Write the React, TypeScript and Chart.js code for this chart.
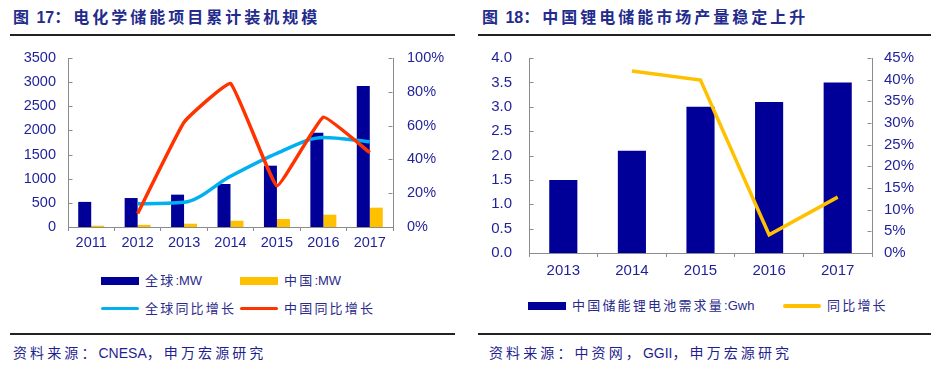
import React, { useEffect, useRef } from 'react';
import { Chart, registerables } from 'chart.js';

Chart.register(...registerables);

// ---------- data ----------
const years1 = ['2011', '2012', '2013', '2014', '2015', '2016', '2017'];
const globalMW = [520, 600, 670, 890, 1270, 1950, 2920];
const chinaMW = [27, 45, 68, 130, 166, 255, 400];
const globalYoY = [null, 13.8, 14.6, 30, 43.6, 53, 50.5];
const chinaYoY = [null, 8, 62, 85, 24.4, 65, 44];
const names1 = ['全球:MW', '中国:MW', '全球同比增长', '中国同比增长'];

const years2 = ['2013', '2014', '2015', '2016', '2017'];
const liDemand = [1.5, 2.1, 3.0, 3.1, 3.5];
const liYoY = [null, 42, 39.9, 4.2, 12.9];
const names2 = ['中国储能锂电池需求量:Gwh', '同比增长'];

const title1 = '图 17：电化学储能项目累计装机规模';
const title2 = '图 18：中国锂电储能市场产量稳定上升';
const source1 = '资料来源：CNESA，申万宏源研究';
const source2 = '资料来源：中资网，GGII，申万宏源研究';

// ---------- styles ----------
const NAVY = '#000099';
const YELLOW = '#FFC000';
const CYAN = '#00B0F0';
const RED = '#FF3300';
const TEXT = '#1f1f99';
const TITLE = '#232b8c';
const AXIS = '#8c8c8c';
const LATIN = "'Liberation Sans', Arial, sans-serif";
const MIXED = "'Liberation Sans', 'Noto Sans CJK SC', sans-serif";

const inwardTicks = {
  id: 'inwardTicks',
  afterDraw(chart: any) {
    const ctx = chart.ctx;
    ctx.save();
    ctx.strokeStyle = AXIS;
    ctx.lineWidth = 1;
    for (const id of ['y', 'y1']) {
      const s = chart.scales[id];
      if (!s) continue;
      const left = s.position === 'left';
      const x0 = left ? Math.round(chart.chartArea.left) + 0.5 : Math.round(chart.chartArea.right) - 0.5;
      const dir = left ? 1 : -1;
      s.ticks.forEach((t: any) => {
        const y = Math.round(s.getPixelForValue(t.value)) + 0.5;
        ctx.beginPath();
        ctx.moveTo(x0, y);
        ctx.lineTo(x0 + dir * 4, y);
        ctx.stroke();
      });
    }
    ctx.restore();
  },
};

function ChartBox({ config, style }: { config: any; style: React.CSSProperties }) {
  const ref = useRef<HTMLCanvasElement>(null);
  useEffect(() => {
    const chart = new Chart(ref.current as HTMLCanvasElement, config);
    return () => chart.destroy();
  }, []);
  return (
    <div style={{ position: 'absolute', ...style }}>
      <canvas ref={ref} />
    </div>
  );
}

function xAxis(size: number, pad: number, height: number) {
  return {
    type: 'category',
    offset: true,
    grid: { display: true, offset: true, drawOnChartArea: false, drawTicks: true, tickLength: 4, color: AXIS },
    border: { display: true, color: AXIS, width: 1 },
    ticks: { color: TEXT, font: { family: LATIN, size }, padding: pad, maxRotation: 0, autoSkip: false },
    afterFit: (s: any) => { s.height = height; s.paddingLeft = 0; s.paddingRight = 0; },
  };
}

function yAxis(position: string, min: number, max: number, step: number, pad: number, width: number, size: number, cb: (v: number) => string) {
  return {
    position,
    min,
    max,
    grid: { display: false, drawTicks: false },
    border: { display: true, color: AXIS, width: 1 },
    ticks: { stepSize: step, autoSkip: false, color: TEXT, font: { family: LATIN, size }, padding: pad, callback: cb },
    afterFit: (s: any) => { s.width = width; s.paddingTop = 0; s.paddingBottom = 0; },
  };
}

const config1 = {
  type: 'bar',
  data: {
    labels: years1,
    datasets: [
      { type: 'line', label: names1[3], data: chinaYoY, yAxisID: 'y1', borderColor: RED, backgroundColor: RED, borderWidth: 3.5, pointRadius: 0, tension: 0.1, order: 0 },
      { type: 'line', label: names1[2], data: globalYoY, yAxisID: 'y1', borderColor: CYAN, backgroundColor: CYAN, borderWidth: 3.5, pointRadius: 0, cubicInterpolationMode: 'monotone', order: 1 },
      { type: 'bar', label: names1[0], data: globalMW, yAxisID: 'y', backgroundColor: NAVY, categoryPercentage: 0.56, barPercentage: 1, order: 2 },
      { type: 'bar', label: names1[1], data: chinaMW, yAxisID: 'y', backgroundColor: YELLOW, categoryPercentage: 0.56, barPercentage: 1, order: 3 },
    ],
  },
  options: {
    animation: false,
    responsive: true,
    maintainAspectRatio: false,
    layout: { padding: { top: 18, left: 0, right: 0, bottom: 0 } },
    plugins: { legend: { display: false }, tooltip: { enabled: false } },
    scales: {
      x: xAxis(14.5, 3, 28),
      y: yAxis('left', 0, 3500, 500, 12, 68, 14.5, (v: number) => String(v)),
      y1: yAxis('right', 0, 100, 20, 14, 77, 14.5, (v: number) => v + '%'),
    },
  },
  plugins: [inwardTicks],
};

const config2 = {
  type: 'bar',
  data: {
    labels: years2,
    datasets: [
      { type: 'line', label: names2[1], data: liYoY, yAxisID: 'y1', borderColor: YELLOW, backgroundColor: YELLOW, borderWidth: 3.5, pointRadius: 0, tension: 0, order: 0 },
      { type: 'bar', label: names2[0], data: liDemand, yAxisID: 'y', backgroundColor: NAVY, categoryPercentage: 0.41, barPercentage: 1, order: 1 },
    ],
  },
  options: {
    animation: false,
    responsive: true,
    maintainAspectRatio: false,
    layout: { padding: { top: 18, left: 0, right: 0, bottom: 0 } },
    plugins: { legend: { display: false }, tooltip: { enabled: false } },
    scales: {
      x: xAxis(15, 5, 27),
      y: yAxis('left', 0, 4, 0.5, 17, 59, 15, (v: number) => v.toFixed(1)),
      y1: yAxis('right', 0, 45, 5, 12, 67, 15, (v: number) => v + '%'),
    },
  },
  plugins: [inwardTicks],
};

const abs = (l: number, t: number, extra: React.CSSProperties = {}): React.CSSProperties => ({ position: 'absolute', left: l, top: t, ...extra });

// letter-spacing only on CJK runs; Latin runs stay tight
function Spaced({ text, ls }: { text: string; ls: number }) {
  const parts = text.match(/[\x00-\x7F]+|[^\x00-\x7F]+/g) || [];
  return (
    <>
      {parts.map((p, i) => (
        <span key={i} style={{ letterSpacing: /^[\x00-\x7F]+$/.test(p) ? 0 : ls }}>{p}</span>
      ))}
    </>
  );
}

function LegendItem({ x, y, label, color, kind }: { x: number; y: number; label: string; color: string; kind: 'bar' | 'line' }) {
  const h = kind === 'bar' ? 8 : 3.5;
  return (
    <>
      <div style={abs(x, y - h / 2, { width: 38, height: h, background: color, borderRadius: kind === 'line' ? 2 : 0 })} />
      <div style={abs(x + 44, y - 10, { height: 20, lineHeight: '20px', fontSize: 13, color: '#2a2a8a', fontFamily: MIXED, whiteSpace: 'nowrap' })}>
        <Spaced text={label} ls={2.2} />
      </div>
    </>
  );
}

const titleStyle = (l: number): React.CSSProperties =>
  abs(l, 8, { height: 20, lineHeight: '20px', fontSize: 16, fontWeight: 'bold', color: TITLE, fontFamily: MIXED, whiteSpace: 'nowrap' });
const sourceStyle = (l: number): React.CSSProperties =>
  abs(l, 343, { height: 20, lineHeight: '20px', fontSize: 14, color: '#1f1f8f', fontFamily: MIXED, whiteSpace: 'nowrap' });

export default function App() {
  return (
    <div style={{ position: 'fixed', left: 0, top: 0, width: 939, height: 372, background: '#fff', overflow: 'hidden' }}>
      {/* left panel */}
      <div style={titleStyle(13)}><Spaced text={title1} ls={3} /></div>
      <div style={abs(10, 34, { width: 445, height: 2, background: '#222' })} />
      <ChartBox config={config1} style={{ left: 0, top: 40, width: 470, height: 215 }} />
      <LegendItem x={101} y={280.5} label={names1[0]} color={NAVY} kind="bar" />
      <LegendItem x={240} y={280.5} label={names1[1]} color={YELLOW} kind="bar" />
      <LegendItem x={101} y={308.5} label={names1[2]} color={CYAN} kind="line" />
      <LegendItem x={240} y={308.5} label={names1[3]} color={RED} kind="line" />
      <div style={abs(10, 333, { width: 445, height: 2, background: '#222' })} />
      <div style={sourceStyle(13)}><Spaced text={source1} ls={3.1} /></div>

      {/* right panel */}
      <div style={titleStyle(482)}><Spaced text={title2} ls={3} /></div>
      <div style={abs(478, 34, { width: 453, height: 2, background: '#222' })} />
      <ChartBox config={config2} style={{ left: 470, top: 40, width: 469, height: 240 }} />
      <LegendItem x={528} y={306} label={names2[0]} color={NAVY} kind="bar" />
      <LegendItem x={783} y={306} label={names2[1]} color={YELLOW} kind="line" />
      <div style={abs(478, 333, { width: 453, height: 2, background: '#222' })} />
      <div style={sourceStyle(489)}><Spaced text={source2} ls={3.1} /></div>
    </div>
  );
}
